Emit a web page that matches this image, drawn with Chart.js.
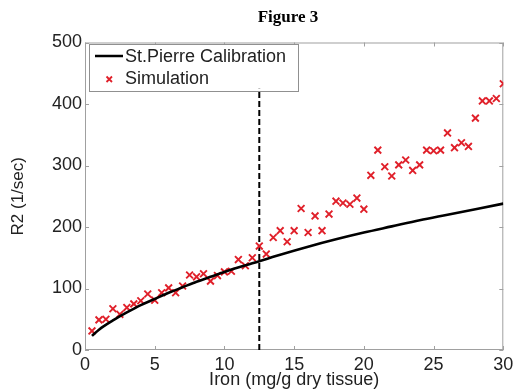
<!DOCTYPE html>
<html lang="en">
<head>
    <meta charset="UTF-8">
    <title>Figure 3</title>
    <script src="https://cdn.jsdelivr.net/npm/chart.js"></script>
    <style>
        body {
            margin: 0;
            padding: 0;
            background-color: #fff;
        }
        canvas {
            display: block;
        }
    </style>
</head>
<body>
    <canvas id="fig3" width="525" height="392"></canvas>

    <script>
        // St.Pierre calibration curve
        const calibIron = [0.5, 1, 2, 3, 4, 5, 6, 7, 8, 9, 10, 12, 14, 16, 18, 20, 22, 24, 26, 28, 30];
        const calibR2 = [23, 33, 48, 61, 73, 83, 93, 102, 111, 119, 127, 141, 155, 168, 180, 191, 201, 211, 220, 229, 238];

        // Simulation points
        const simIron = [0.5, 1, 1.5, 2, 2.5, 3, 3.5, 4, 4.5, 5, 5.5, 6, 6.5, 7, 7.5, 8, 8.5, 9, 9.5, 10,
            10.5, 11, 11.5, 12, 12.5, 13, 13.5, 14, 14.5, 15, 15.5, 16, 16.5, 17, 17.5, 18, 18.5, 19, 19.5, 20,
            20.5, 21, 21.5, 22, 22.5, 23, 23.5, 24, 24.5, 25, 25.5, 26, 26.5, 27, 27.5, 28, 28.5, 29, 29.5, 30];
        const simR2 = [31, 49, 50, 67, 58, 69, 75, 80, 91, 81, 93, 101, 93, 104, 122, 119, 124, 112, 121, 127,
            128, 147, 137, 150, 169, 156, 183, 194, 176, 194, 230, 191, 218, 194, 221, 242, 239, 237, 247, 229,
            284, 325, 298, 283, 301, 309, 292, 301, 325, 324, 325, 353, 329, 337, 331, 377, 405, 405, 409, 433];

        // Threshold marker
        const thresholdIron = 12.5;
        const thresholdTop = 425;

        const xTicks = [0, 5, 10, 15, 20, 25, 30];
        const yTicks = [0, 100, 200, 300, 400, 500];

        const simRed = '#e0202a';
        const sansFont = '"Liberation Sans", Arial, sans-serif';

        // frame, inward ticks, figure title and the legend box
        const decorations = {
            id: 'decorations',
            beforeDatasetsDraw(chart) {
                const { ctx, chartArea: a, scales } = chart;
                ctx.save();
                ctx.strokeStyle = '#a0a0a0';
                ctx.lineWidth = 1;
                ctx.strokeRect(a.left + 0.5, a.top + 0.5, a.right - a.left - 1, a.bottom - a.top - 1);
                ctx.beginPath();
                xTicks.forEach(v => {
                    const px = Math.round(scales.x.getPixelForValue(v)) + 0.5;
                    ctx.moveTo(px, a.bottom); ctx.lineTo(px, a.bottom - 4);
                    ctx.moveTo(px, a.top); ctx.lineTo(px, a.top + 4);
                });
                yTicks.forEach(v => {
                    const py = Math.round(scales.y.getPixelForValue(v)) + 0.5;
                    ctx.moveTo(a.left, py); ctx.lineTo(a.left + 4, py);
                    ctx.moveTo(a.right, py); ctx.lineTo(a.right - 4, py);
                });
                ctx.stroke();

                // title
                ctx.fillStyle = '#000';
                ctx.font = 'bold 17px "Liberation Serif", "Times New Roman", serif';
                ctx.textAlign = 'center';
                ctx.textBaseline = 'middle';
                ctx.fillText('Figure 3', 288, 18);

                // legend
                ctx.fillStyle = '#fff';
                ctx.fillRect(89.5, 44.5, 209, 47);
                ctx.strokeStyle = '#909090';
                ctx.strokeRect(89.5, 44.5, 209, 47);
                ctx.strokeStyle = '#000';
                ctx.lineWidth = 2.5;
                ctx.beginPath();
                ctx.moveTo(95, 56); ctx.lineTo(123, 56);
                ctx.stroke();
                ctx.strokeStyle = simRed;
                ctx.lineWidth = 1.8;
                ctx.beginPath();
                ctx.moveTo(106.5, 76.5); ctx.lineTo(112, 82);
                ctx.moveTo(112, 76.5); ctx.lineTo(106.5, 82);
                ctx.stroke();
                ctx.fillStyle = '#222';
                ctx.font = '18px ' + sansFont;
                ctx.textAlign = 'left';
                ctx.fillText('St.Pierre Calibration', 125, 57);
                ctx.fillText('Simulation', 125, 79);
                ctx.restore();
            }
        };

        const ctx = document.getElementById('fig3').getContext('2d');
        new Chart(ctx, {
            type: 'scatter',
            data: {
                datasets: [
                    {
                        label: 'St.Pierre Calibration',
                        data: calibIron.map((x, i) => ({ x: x, y: calibR2[i] })),
                        showLine: true,
                        borderColor: '#000',
                        borderWidth: 2.6,
                        pointRadius: 0,
                        tension: 0.4,
                        cubicInterpolationMode: 'monotone'
                    },
                    {
                        label: 'Simulation',
                        data: simIron.map((x, i) => ({ x: x, y: simR2[i] })),
                        pointStyle: 'crossRot',
                        pointRadius: 4.8,
                        borderColor: simRed,
                        backgroundColor: simRed,
                        pointBorderWidth: 1.9
                    },
                    {
                        label: 'threshold',
                        data: [{ x: thresholdIron, y: 0 }, { x: thresholdIron, y: thresholdTop }],
                        showLine: true,
                        borderColor: '#000',
                        borderWidth: 2,
                        borderDash: [6, 3],
                        pointRadius: 0
                    }
                ]
            },
            options: {
                responsive: false,
                animation: false,
                layout: {
                    padding: { left: 0, top: 42.5, right: 21.7, bottom: 0 }
                },
                plugins: {
                    legend: { display: false },
                    tooltip: { enabled: false }
                },
                scales: {
                    x: {
                        type: 'linear',
                        min: 0,
                        max: 30,
                        afterBuildTicks: scale => { scale.ticks = xTicks.map(v => ({ value: v })); },
                        afterFit: scale => { scale.height = 42; },
                        grid: { display: false, drawTicks: false, tickLength: 0 },
                        border: { display: false },
                        ticks: {
                            padding: 4,
                            color: '#222',
                            font: { family: sansFont, size: 18 }
                        },
                        title: {
                            display: true,
                            text: 'Iron (mg/g dry tissue)',
                            color: '#222',
                            padding: { top: 0, bottom: 1.5 },
                            font: { family: sansFont, size: 18 }
                        }
                    },
                    y: {
                        type: 'linear',
                        min: 0,
                        max: 500,
                        afterBuildTicks: scale => { scale.ticks = yTicks.map(v => ({ value: v })); },
                        afterFit: scale => { scale.width = 85; },
                        grid: { display: false, drawTicks: false, tickLength: 0 },
                        border: { display: false },
                        ticks: {
                            padding: 3,
                            color: '#222',
                            font: { family: sansFont, size: 18 }
                        },
                        title: {
                            display: true,
                            text: 'R2 (1/sec)',
                            color: '#222',
                            padding: { top: 8, bottom: 0 },
                            font: { family: sansFont, size: 17 }
                        }
                    }
                }
            },
            plugins: [decorations]
        });
    </script>
</body>
</html>
